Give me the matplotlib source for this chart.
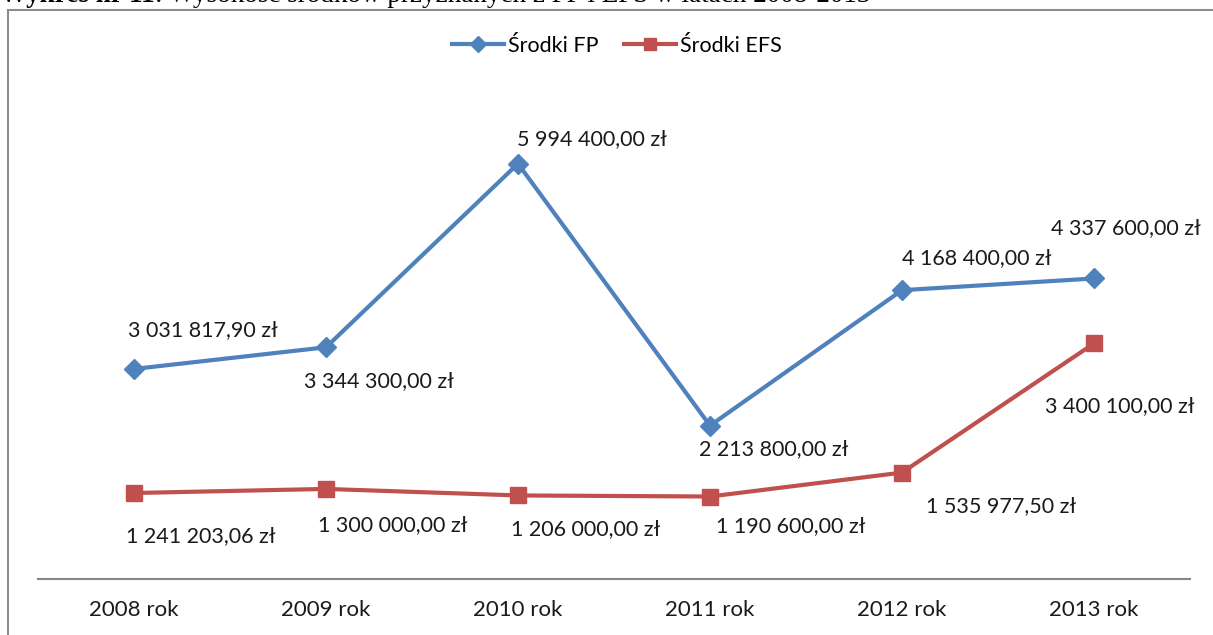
import matplotlib.pyplot as plt
import matplotlib.patches as patches
from matplotlib.text import Annotation
import numpy as np

years = ['2008 rok', '2009 rok', '2010 rok', '2011 rok', '2012 rok', '2013 rok']
fp = [3031817.90, 3344300.00, 5994400.00, 2213800.00, 4168400.00, 4337600.00]
efs = [1241203.06, 1300000.00, 1206000.00, 1190600.00, 1535977.50, 3400100.00]
series_names = ['Środki FP', 'Środki EFS']

# label offsets in pixels
fp_offsets = [(69, 39), (53, -34), (74, 25), (64, -23), (75, 32), (32, 50)]
efs_offsets = [(67, -43), (67, -36), (68, -34), (81, -30), (99, -34), (26, -63)]

BLUE = '#4F81BD'
RED = '#C0504D'
FONT = 'Lato'
FS = 15.5


def fmt(v):
    s = '{:,.2f}'.format(v)
    return s.replace(',', ' ').replace('.', ',') + ' zł'


def main():
    plt.rcParams['font.family'] = [FONT, 'DejaVu Sans']
    fig = plt.figure(figsize=(12.13, 6.35), dpi=100)
    W, H = 1213, 635
    ax = fig.add_axes([38 / W, 1 - 579 / H, (1190 - 38) / W, (579 - 94) / H])

    x = np.arange(len(years))
    l1, = ax.plot(x, fp, color=BLUE, lw=3, marker='D', ms=10, zorder=3)
    l2, = ax.plot(x, efs, color=RED, lw=3, marker='s', ms=11, zorder=3)

    for xi, v, off in zip(x, fp, fp_offsets):
        ax.annotate(fmt(v), (xi, v), xytext=off, textcoords='offset pixels',
                    ha='center', va='center', fontsize=FS, color='#1a1a1a')
    for xi, v, off in zip(x, efs, efs_offsets):
        ax.annotate(fmt(v), (xi, v), xytext=off, textcoords='offset pixels',
                    ha='center', va='center', fontsize=FS, color='#1a1a1a')

    ax.set_xlim(-0.5, len(years) - 0.5)
    ax.set_ylim(0, 7000000)
    ax.set_xticks(x)
    ax.set_xticklabels(years, fontsize=FS + 0.5, color='#1a1a1a')
    ax.tick_params(axis='x', length=0, pad=15)
    ax.set_yticks([])
    for side in ['top', 'right', 'left']:
        ax.spines[side].set_visible(False)
    ax.spines['bottom'].set_color('#868686')
    ax.spines['bottom'].set_linewidth(1.5)
    ax.patch.set_alpha(0)

    fig.legend([l1, l2], series_names, loc='center', bbox_to_anchor=(617 / W, 1 - 46 / H),
               ncol=2, frameon=False, fontsize=FS, handlelength=2.4, columnspacing=1.2,
               handletextpad=0.2, markerscale=0.85)

    # outer chart frame (cut off at right and bottom)
    frame = patches.Rectangle((8 / W, -0.1), 1.2, 1 - 10 / H + 0.1, transform=fig.transFigure,
                              fill=False, edgecolor='#8c8c8c', lw=1.5, clip_on=False)
    fig.patches.append(frame)

    # caption, cropped at the top of the picture like in the original
    t1 = fig.text(0, 1 + 4 / H, 'Wykres nr 11', family='Liberation Serif', weight='bold',
                  fontsize=19.5, ha='left', va='center')
    ann = Annotation(': Wysokość środków przyznanych z FP i EFS w latach 2008-2013',
                     xy=(1, 0.5), xycoords=t1, va='center', ha='left',
                     family='Liberation Serif', fontsize=19.5, annotation_clip=False)
    fig.add_artist(ann)

    fig.savefig('out.png', dpi=100)


if __name__ == '__main__':
    main()
